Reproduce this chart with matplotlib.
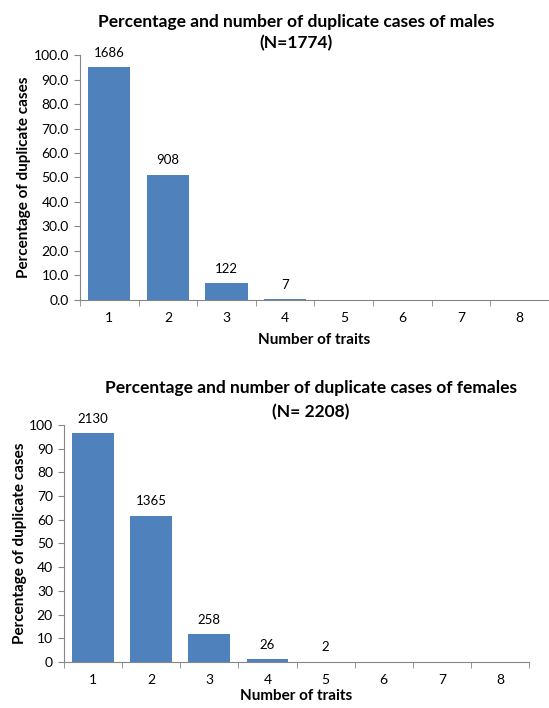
import matplotlib.pyplot as plt
import numpy as np

# Data
traits = [1, 2, 3, 4, 5, 6, 7, 8]

male_pct = [95.0, 51.2, 6.9, 0.4, 0.0, 0.0, 0.0, 0.0]
male_counts = ["1686", "908", "122", "7", "", "", "", ""]

female_pct = [96.5, 61.8, 11.7, 1.2, 0.1, 0.0, 0.0, 0.0]
female_counts = ["2130", "1365", "258", "26", "2", "", "", ""]

bar_color = "#4F81BD"
axis_color = "#868686"

plt.rcParams['font.family'] = ['Lato', 'DejaVu Sans']

fig = plt.figure(figsize=(5.49, 7.08), dpi=100)


def draw_panel(ax, values, counts, yfmt, xpad):
    ax.bar(traits, values, width=0.72, color=bar_color, zorder=2)
    for x, v, c in zip(traits, values, counts):
        if c:
            ax.annotate(c, (x, v), xytext=(0, 6), textcoords="offset points",
                        ha="center", va="bottom", fontsize=9.5)
    ax.set_xlim(0.5, 8.5)
    ax.set_ylim(0, 100)
    ax.set_yticks(np.arange(0, 101, 10))
    ax.set_yticklabels([yfmt % t for t in np.arange(0, 101, 10)])
    ax.set_xticks(traits)
    ax.set_xticks(np.arange(0.5, 9.0, 1.0), minor=True)
    ax.tick_params(axis="x", which="major", length=0, pad=9, labelsize=10)
    ax.tick_params(axis="x", which="minor", length=4, color=axis_color, direction="out")
    ax.tick_params(axis="y", length=4, color=axis_color, labelsize=10, pad=4)
    for s in ["top", "right"]:
        ax.spines[s].set_visible(False)
    for s in ["left", "bottom"]:
        ax.spines[s].set_color(axis_color)
    ax.set_ylabel("Percentage of duplicate cases", fontsize=11, fontweight="bold")
    ax.set_xlabel("Number of traits", fontsize=11, fontweight="bold", labelpad=xpad)


# Males
ax1 = fig.add_axes([0.1457, 0.5763, 0.8543, 0.3460])
draw_panel(ax1, male_pct, male_counts, "%.1f", 6)
ax1.yaxis.set_label_coords(-0.104, 0.5)
fig.text(0.539, 0.969, "Percentage and number of duplicate cases of males",
         ha="center", va="center", fontsize=12.5, fontweight="bold")
fig.text(0.539, 0.939, "(N=1774)", ha="center", va="center", fontsize=12.5, fontweight="bold")

# Females
ax2 = fig.add_axes([0.1166, 0.0650, 0.8470, 0.3347])
draw_panel(ax2, female_pct, female_counts, "%d", 2)
ax2.yaxis.set_label_coords(-0.08, 0.5)
fig.text(0.566, 0.452, "Percentage and number of duplicate cases of females",
         ha="center", va="center", fontsize=12.5, fontweight="bold")
fig.text(0.566, 0.418, "(N= 2208)", ha="center", va="center", fontsize=12.5, fontweight="bold")

plt.savefig("out.png", dpi=100)
